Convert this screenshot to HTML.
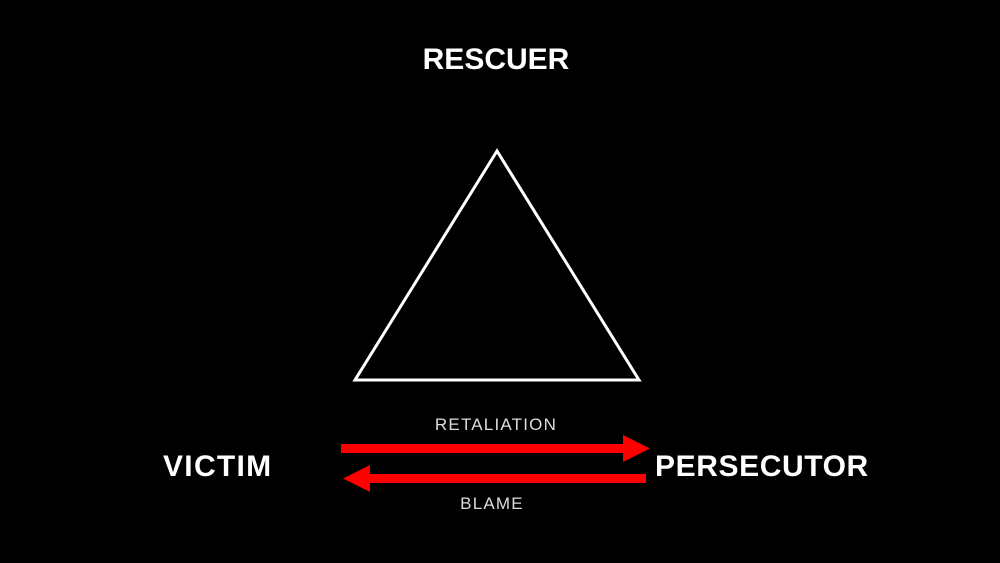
<!DOCTYPE html>
<html><head><style>
html,body{margin:0;padding:0;background:#000;}
body{width:1000px;height:563px;overflow:hidden;position:relative;font-family:"Liberation Sans",sans-serif;color:#fff;}
.t{position:absolute;font-weight:bold;font-size:30px;white-space:nowrap;}
.s{position:absolute;font-size:17px;color:#ddd;white-space:nowrap;letter-spacing:1.2px;}
</style></head><body>
<svg width="1000" height="563" style="position:absolute;left:0;top:0">
<polygon points="497,151 355,380 639,380" fill="none" stroke="#fff" stroke-width="3" stroke-linejoin="miter"/>
<rect x="341" y="444" width="284" height="9" fill="#f00"/>
<polygon points="623,435 650,448.5 623,462" fill="#f00"/>
<rect x="368" y="474" width="278" height="9" fill="#f00"/>
<polygon points="370,465 343,478.5 370,492" fill="#f00"/>
</svg>
<div class="t" style="left:422px;top:43px;width:148px;text-align:center;">RESCUER</div>
<div class="t" style="left:163px;top:450px;letter-spacing:1.3px;">VICTIM</div>
<div class="t" style="left:655px;top:450px;letter-spacing:0.6px;">PERSECUTOR</div>
<div class="s" style="left:396px;top:415px;width:200px;text-align:center;">RETALIATION</div>
<div class="s" style="left:392px;top:494px;width:200px;text-align:center;">BLAME</div>
</body></html>
